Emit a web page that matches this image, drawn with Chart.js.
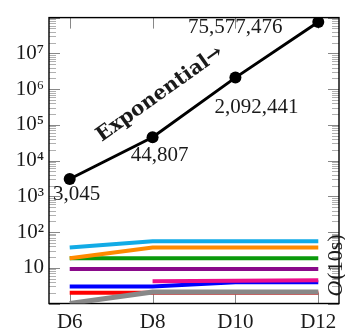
<!DOCTYPE html>
<html>
<head>
<meta charset="utf-8">
<script src="https://cdn.jsdelivr.net/npm/chart.js@4.4.1/dist/chart.umd.min.js"></script>
<style>
  html, body { margin: 0; padding: 0; background: #fff; }
  #c { display: block; }
</style>
</head>
<body>
<canvas id="c" width="345" height="329"></canvas>
<script>
// ── Datos ────────────────────────────────────────────────────────────────
const categories = ['D6', 'D8', 'D10', 'D12']
const exponential = [3045, 44807, 2092441, 75577476]
const cyanSeries = [37, 55, 55, 55]
const orangeSeries = [18.5, 37, 37, 37]
const greenSeries = [18.5, 18.5, 18.5, 18.5]
const purpleSeries = [9.2, 9.2, 9.2, 9.2]
const magentaSeries = [null, 4.2, 4.35, 4.45]
const blueSeries = [3, 3, 3.95, 3.95]
const redSeries = [2, 2, 2, 2]
const graySeries = [1, 2.1, 2.1, 2.1]
const yTickValues = [10, 100, 1e3, 1e4, 1e5, 1e6, 1e7]
const yTickLabels = ['10', '10²', '10³', '10⁴', '10⁵', '10⁶', '10⁷']

const SERIF = '"Liberation Serif", "Times New Roman", serif'

// ── Helpers ──────────────────────────────────────────────────────────────
const toPoints = arr => arr.map((v, i) => ({ x: i, y: v }))

function flatLine (data, color, width) {
  return {
    data: toPoints(data),
    borderColor: color,
    backgroundColor: color,
    borderWidth: width,
    pointRadius: 0,
    pointHoverRadius: 0,
    tension: 0,
    fill: false
  }
}

function stroke (ctx, x1, y1, x2, y2) {
  ctx.beginPath(); ctx.moveTo(x1, y1); ctx.lineTo(x2, y2); ctx.stroke()
}

// ── Marco y ticks hacia adentro (estilo pgfplots) ────────────────────────
const frameTicks = {
  id: 'frameTicks',
  beforeDatasetsDraw (chart) {
    const { ctx, chartArea: a, scales: { x, y } } = chart
    ctx.save()
    ctx.lineWidth = 1
    for (let e = 0; e <= 8; e++) {
      for (let m = 1; m < 10; m++) {
        const v = m * Math.pow(10, e)
        if (v < y.min || v > y.max) continue
        const py = Math.round(y.getPixelForValue(v)) + 0.5
        const len = m === 1 ? 11 : 7
        ctx.strokeStyle = m === 1 ? '#888' : '#b0b0b0'
        stroke(ctx, a.left, py, a.left + len, py)
        stroke(ctx, a.right, py, a.right - len, py)
      }
    }
    ctx.strokeStyle = '#888'
    categories.forEach((c, i) => {
      const px = Math.round(x.getPixelForValue(i)) + 0.5
      stroke(ctx, px, a.top, px, a.top + 11)
      stroke(ctx, px, a.bottom, px, a.bottom - 11)
    })
    ctx.strokeStyle = '#000'
    ctx.lineWidth = 1.4
    ctx.strokeRect(a.left, a.top, a.right - a.left, a.bottom - a.top)
    ctx.restore()
  }
}

// ── Etiquetas de valores y anotaciones ───────────────────────────────────
const annotations = {
  id: 'annotations',
  afterDatasetsDraw (chart) {
    const { ctx } = chart
    const pts = chart.getDatasetMeta(0).data
    const offsets = [[7, 21], [7, 24], [21, 35], [-83, 11]]
    ctx.save()
    ctx.fillStyle = '#1a1a1a'
    ctx.font = '21px ' + SERIF
    ctx.textAlign = 'center'
    ctx.textBaseline = 'alphabetic'
    exponential.forEach((v, i) => {
      const p = pts[i]
      ctx.fillText(v.toLocaleString('en-US'), p.x + offsets[i][0], p.y + offsets[i][1])
    })

    // Exponential→
    ctx.save()
    ctx.translate(160, 94)
    ctx.rotate(-35.5 * Math.PI / 180)
    ctx.font = 'bold 20px "DejaVu Serif", serif'
    ctx.textBaseline = 'middle'
    ctx.fillText('Exponential→', 0, 0)
    ctx.restore()

    // O(10s) en el borde derecho
    ctx.save()
    ctx.translate(342, 266)
    ctx.rotate(-Math.PI / 2)
    ctx.textAlign = 'left'
    ctx.font = 'italic 22px ' + SERIF
    const ow = ctx.measureText('O').width
    ctx.font = '22px ' + SERIF
    const rw = ctx.measureText('(10s)').width
    const start = -(ow + rw) / 2
    ctx.font = 'italic 22px ' + SERIF
    ctx.fillText('O', start, 0)
    ctx.font = '22px ' + SERIF
    ctx.fillText('(10s)', start + ow + 1, 0)
    ctx.restore()
    ctx.restore()
  }
}

// ── Chart ────────────────────────────────────────────────────────────────
const ctx = document.getElementById('c').getContext('2d')

new Chart(ctx, {
  type: 'line',
  data: {
    datasets: [
      {
        data: toPoints(exponential),
        borderColor: '#000',
        backgroundColor: '#000',
        borderWidth: 3,
        pointRadius: 6,
        pointBackgroundColor: '#000',
        pointBorderWidth: 0,
        tension: 0,
        fill: false
      },
      flatLine(cyanSeries, '#12ABE6', 4),
      flatLine(orangeSeries, '#FF8A00', 4),
      flatLine(greenSeries, '#0B9A0B', 4),
      flatLine(purpleSeries, '#8A0A8A', 4),
      flatLine(magentaSeries, '#EC0F8C', 4),
      flatLine(blueSeries, '#0000FF', 4),
      flatLine(graySeries, '#888888', 5),
      flatLine(redSeries, '#FF0000', 4)
    ]
  },
  options: {
    responsive: false,
    animation: false,
    devicePixelRatio: 1,
    layout: { padding: { top: 7, right: 1, left: 0, bottom: 0 } },
    plugins: {
      legend: { display: false },
      tooltip: { enabled: false }
    },
    scales: {
      x: {
        type: 'linear',
        min: -0.25,
        max: 3.25,
        grid: { display: false, drawTicks: false },
        border: { display: false },
        afterBuildTicks: s => { s.ticks = categories.map((c, i) => ({ value: i })) },
        afterFit: s => { s.height = 25.5 },
        ticks: {
          padding: 6,
          color: '#1a1a1a',
          font: { family: SERIF, size: 21 },
          maxRotation: 0,
          callback: v => categories[v]
        }
      },
      y: {
        type: 'logarithmic',
        min: 1,
        max: 1e8,
        grid: { display: false, drawTicks: false },
        border: { display: false },
        afterBuildTicks: s => { s.ticks = yTickValues.map(v => ({ value: v })) },
        afterFit: s => { s.width = 49 },
        ticks: {
          padding: 5,
          color: '#1a1a1a',
          font: { family: SERIF, size: 21 },
          callback: v => yTickLabels[yTickValues.indexOf(v)]
        }
      }
    }
  },
  plugins: [frameTicks, annotations]
})
</script>
</body>
</html>
